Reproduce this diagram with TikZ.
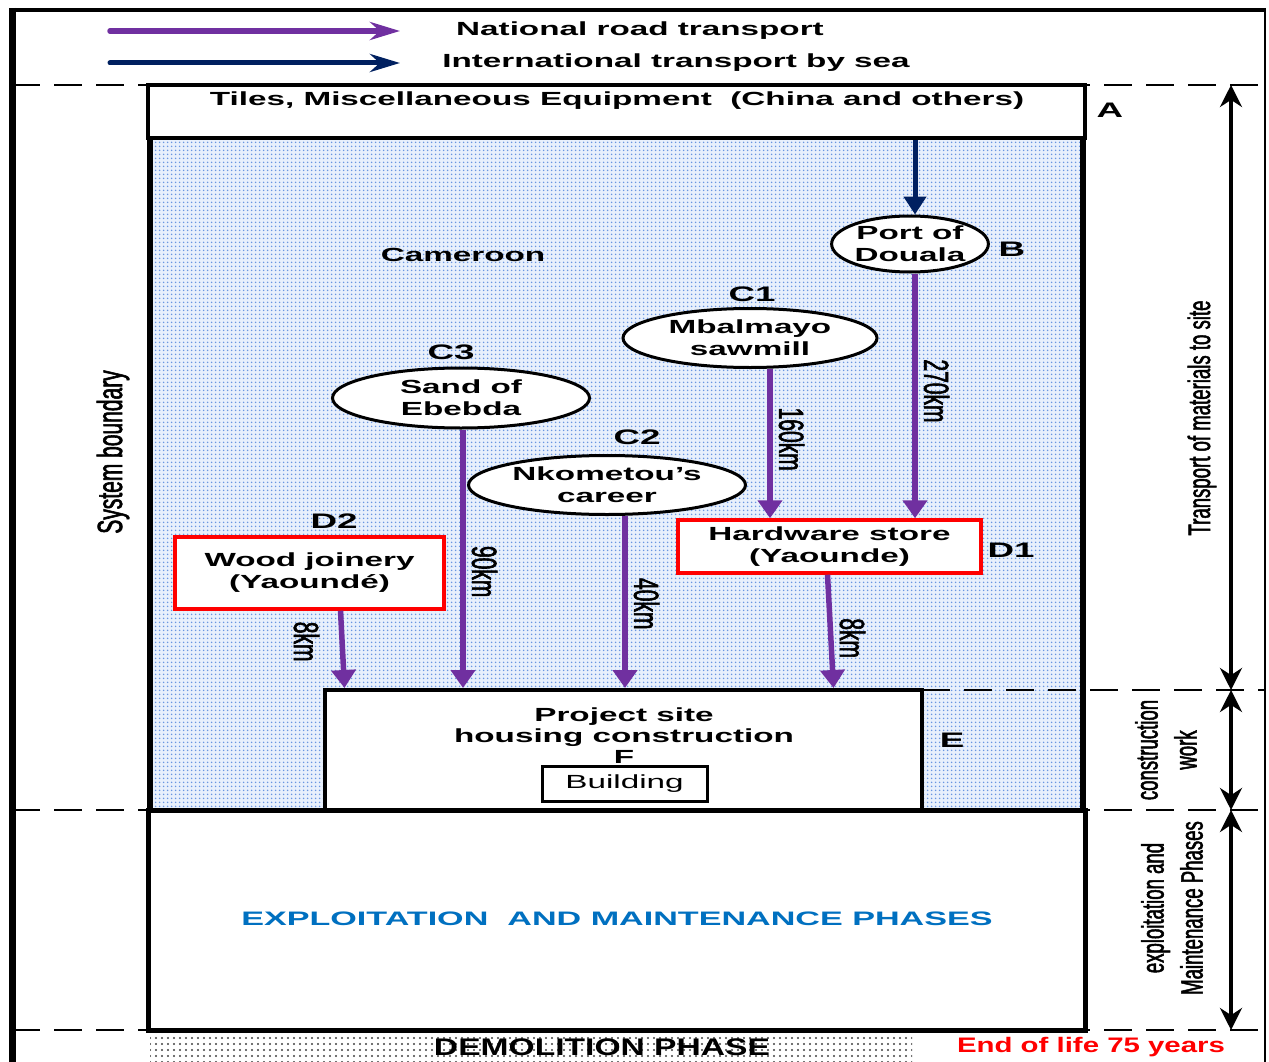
\documentclass[tikz,border=0pt]{standalone}
\usepackage{fontspec}
\setmainfont{Liberation Sans}
\newfontfamily\widefont[FakeStretch=1.75]{Liberation Sans}
\newfontfamily\midfont[FakeStretch=1.4]{Liberation Sans}
\newfontfamily\narrowfont[FakeStretch=0.6, FakeBold=1.6]{Liberation Sans}
\usetikzlibrary{shapes.geometric, arrows.meta, patterns.meta}

\definecolor{roadpurple}{RGB}{112,48,160}
\definecolor{seanavy}{RGB}{0,32,96}
\definecolor{phaseblue}{RGB}{0,112,192}
\definecolor{dotblue}{RGB}{105,150,225}
\definecolor{paleblue}{RGB}{232,240,252}

\begin{document}
\begin{tikzpicture}[x=1pt, y=-1pt,
    lbl/.style={font=\widefont\bfseries\fontsize{19}{22}\selectfont, align=center, inner sep=0pt},
    tag/.style={font=\widefont\bfseries\fontsize{21}{24}\selectfont, inner sep=0pt},
    side/.style={font=\narrowfont\fontsize{31}{39}\selectfont, align=center, rotate=90, inner sep=0pt},
    dist/.style={font=\narrowfont\fontsize{35}{38}\selectfont, text=black, rotate=-90, inner sep=6pt},
    place/.style={ellipse, draw, line width=3pt, fill=white, lbl},
    store/.style={rectangle, draw=red, line width=3.5pt, fill=white, lbl},
    frame/.style={rectangle, draw, line width=4pt, fill=white, inner sep=0pt},
    road/.style={roadpurple, line width=5.5pt, -{Triangle[width=24pt,length=18pt]}},
    sea/.style={seanavy, line width=5pt, -{Triangle[width=22pt,length=18pt]}},
    span/.style={line width=4pt, {Stealth[width=22pt,length=22pt]}-{Stealth[width=22pt,length=22pt]}},
    bound/.style={dash pattern=on 28pt off 14pt, line width=1.5pt}
]
    \useasboundingbox (0,0) rectangle (1269,1062);

    % Cameroon area and demolition strip
    \fill[paleblue] (150,138) rectangle (1083,810);
    \fill[pattern={Dots[radius=1pt,distance=4pt]}, pattern color=dotblue] (150,138) rectangle (1083,810);
    \fill[pattern={Dots[radius=1.2pt,distance=6pt]}, pattern color=black!75] (150,1032) rectangle (912,1062);

    % Outer frame
    \draw[line width=7pt] (12,8) -- (12,1062);
    \draw[line width=4pt] (10,10) -- (1266,10);
    \draw[line width=2.5pt] (1265,10) -- (1265,1062);

    % Phase limits
    \draw[bound] (12,85) -- (1265,85);
    \draw[bound] (922,690) -- (1265,690);
    \draw[bound] (12,810) -- (1265,810);
    \draw[bound] (12,1030) -- (1265,1030);

    % System boundary sides
    \draw[line width=6pt] (150,85) -- (150,1030);
    \draw[line width=6pt] (1083,85) -- (1083,1030);

    % Boxes
    \node[frame, minimum width=937pt, minimum height=53pt] (tiles) at (616.5,111.5) {};
    \node[frame, line width=5pt, minimum width=937pt, minimum height=220pt] (use) at (616.5,920) {};
    \node[frame, minimum width=597pt, minimum height=120pt] (site) at (623.5,750) {};
    \node[frame, line width=3pt, minimum width=165pt, minimum height=35pt,
          font=\widefont\fontsize{19}{22}\selectfont] (bldg) at (624.5,783.5) {Building};

    % Sources and stores
    \node[place, minimum width=154pt, minimum height=56pt] (port) at (910,244) {Port of\\Douala};
    \node[place, minimum width=254pt, minimum height=59pt] (c1) at (750,338) {Mbalmayo\\sawmill};
    \node[place, minimum width=257pt, minimum height=60pt] (c3) at (461,398) {Sand of\\Ebebda};
    \node[place, minimum width=277pt, minimum height=59pt] (c2) at (607,485) {Nkometou’s\\career};
    \node[store, minimum width=303pt, minimum height=53pt] (d1) at (829.5,546.5) {Hardware store\\(Yaounde)};
    \node[store, minimum width=269pt, minimum height=72pt] (d2) at (309.5,573) {Wood joinery\\(Yaoundé)};

    % Transport
    \draw[sea] ([xshift=5pt]port.north |- tiles.south) -- ([xshift=5pt]port.north);
    \draw[road] ([xshift=5pt]port.south) -- ([xshift=5pt]port.south |- d1.north)
        node[dist, anchor=south, pos=0.48] {270km};
    \draw[road] ([xshift=20pt]c1.south) -- ([xshift=20pt]c1.south |- d1.north)
        node[dist, anchor=south, pos=0.47] {160km};
    \draw[road] ([xshift=2pt]c3.south) -- ([xshift=2pt]c3.south |- site.north)
        node[dist, anchor=south, pos=0.55] {90km};
    \draw[road] ([xshift=18pt]c2.south) -- ([xshift=18pt]c2.south |- site.north)
        node[dist, anchor=south, pos=0.51] {40km};
    \draw[road] ([xshift=-2pt]d1.south) -- ([xshift=4pt]d1.south |- site.north)
        node[dist, anchor=south, pos=0.56] {8km};
    \draw[road] ([xshift=31pt]d2.south) -- ([xshift=35pt]d2.south |- site.north)
        node[dist, anchor=north, pos=0.4, inner sep=20pt] {8km};

    % Legend
    \coordinate (roadA) at (110,31);
    \coordinate (roadB) at (400,31);
    \coordinate (seaA) at (110,63);
    \coordinate (seaB) at (400,63);
    \draw[road, line cap=round, -{Stealth[width=18pt,length=30pt]}] (roadA) -- (roadB);
    \draw[sea, line cap=round, -{Stealth[width=18pt,length=30pt]}] (seaA) -- (seaB);
    \node[lbl] (roadtxt) at (640,31) {National road transport};
    \node[lbl] (seatxt) at (676,63) {International transport by sea};

    % Texts
    \node[lbl] (tilestxt) at (617,101) {Tiles, Miscellaneous Equipment\ \ (China and others)};
    \node[lbl] (country) at (463,255) {Cameroon};
    \node[lbl, font=\widefont\bfseries\fontsize{19}{21}\selectfont] (sitetxt) at (624,736) {Project site\\housing construction\\F};
    \node[lbl, text=phaseblue, font=\widefont\bfseries\fontsize{19.5}{22}\selectfont] (usetxt) at (617,919)
        {EXPLOITATION\ \ AND MAINTENANCE PHASES};
    \node[font=\midfont\bfseries\fontsize{24}{26}\selectfont, inner sep=0pt] (demo) at (602,1047) {DEMOLITION PHASE};
    \node[font=\midfont\bfseries\fontsize{21}{24}\selectfont, text=red, inner sep=0pt] (eol) at (1091,1047) {End of life 75 years};

    % Letters
    \node[tag] (tA) at (1110,110) {A};
    \node[tag] (tB) at (1012,249) {B};
    \node[tag] (tC1) at (752,294) {C1};
    \node[tag] (tC3) at (451,352) {C3};
    \node[tag] (tC2) at (637,437) {C2};
    \node[tag] (tD2) at (334,521) {D2};
    \node[tag] (tD1) at (1011,550) {D1};
    \node[tag] (tE) at (952,740) {E};

    % Phases on the right
    \coordinate (p0) at (1231,85);
    \coordinate (p1) at (1231,690);
    \coordinate (p2) at (1231,810);
    \coordinate (p3) at (1231,1030);
    \draw[span] (p0) -- (p1);
    \draw[span] (p1) -- (p2);
    \draw[span] (p2) -- (p3);
    \node[side] (trtxt) at (1202,418) {Transport of materials to site};
    \node[side] (cwtxt) at (1166,750) {construction\\work};
    \node[side] (emtxt) at (1172,908) {exploitation and\\Maintenance Phases};
    \node[side, font=\narrowfont\fontsize{35}{38}\selectfont] (sysb) at (113,452) {System boundary};
\end{tikzpicture}
\end{document}
